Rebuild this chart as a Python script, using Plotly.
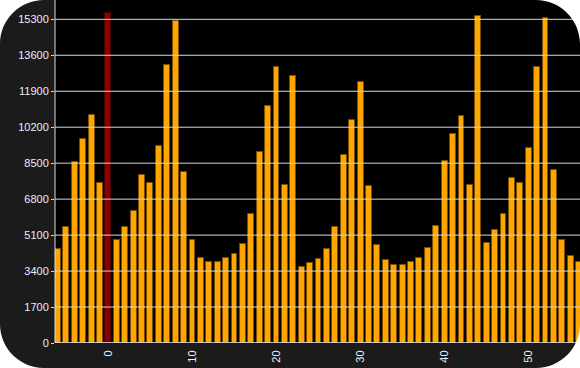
import plotly.graph_objects as go

# Data
categories = list(range(-6, 57))
values = [4420, 5460, 8540, 9620, 10760, 7540, 15610, 4860, 5460, 6260,
          7920, 7540, 9290, 13120, 15230, 8090, 4860, 4040, 3850, 3850,
          4040, 4230, 4700, 6120, 9010, 11180, 13030, 7490, 12600, 3570,
          3800, 3990, 4420, 5460, 8870, 10520, 12320, 7400, 4650, 3900,
          3710, 3710, 3850, 4040, 4470, 5510, 8580, 9860, 10710, 7490,
          15440, 4750, 5320, 6120, 7780, 7540, 9240, 13030, 15350, 8160,
          4890, 4090, 3850]
highlight = 0
ytick_vals = [0, 1700, 3400, 5100, 6800, 8500, 10200, 11900, 13600, 15300]
xtick_vals = [0, 10, 20, 30, 40, 50]

W, H = 580, 368
ML, MR, MT, MB = 55, 0, 0, 25
PW, PH = W - ML - MR, H - MT - MB

colors = ["#8B0000" if c == highlight else "#FFA500" for c in categories]
lines = ["#4a0000" if c == highlight else "#7a5000" for c in categories]

fig = go.Figure(go.Bar(
    x=categories, y=values, width=0.7,
    marker=dict(color=colors, line=dict(color=lines, width=1)),
))

def fx(px):
    return (px - ML) / PW

def fy(py):
    return (H - MB - py) / PH

def corner_path(pts):
    s = ""
    for cmd, coords in pts:
        s += cmd + " " + " ".join(f"{fx(a):.5f},{fy(b):.5f}" for a, b in coords) + " "
    return s + "Z"

r = 44
k = 0.5523
shapes = []
# gridlines above bars
for v in ytick_vals[1:]:
    shapes.append(dict(type="line", xref="paper", yref="y", x0=0, x1=1, y0=v, y1=v,
                       line=dict(color="#d8d8d8", width=1), layer="above"))
shapes.append(dict(type="line", xref="paper", yref="y", x0=0, x1=1, y0=0, y1=0,
                   line=dict(color="#f0f0f0", width=1.5), layer="above"))
shapes.append(dict(type="line", xref="paper", yref="paper", x0=0, x1=0, y0=0, y1=1,
                   line=dict(color="#e0e0e0", width=1), layer="above"))
# rounded white corners
corners = [
    [("M", [(0, 0)]), ("L", [(r, 0)]), ("C", [(r - k * r, 0), (0, r - k * r), (0, r)])],
    [("M", [(W, 0)]), ("L", [(W - r, 0)]), ("C", [(W - r + k * r, 0), (W, r - k * r), (W, r)])],
    [("M", [(0, H)]), ("L", [(r, H)]), ("C", [(r - k * r, H), (0, H - r + k * r), (0, H - r)])],
    [("M", [(W, H)]), ("L", [(W - r, H)]), ("C", [(W - r + k * r, H), (W, H - r + k * r), (W, H - r)])],
]
for c in corners:
    shapes.append(dict(type="path", xref="paper", yref="paper", path=corner_path(c),
                       fillcolor="white", line=dict(width=0), layer="above"))

font_col = "#e6f0ff"
fig.update_layout(
    width=W, height=H,
    margin=dict(l=ML, r=MR, t=MT, b=MB, pad=0),
    paper_bgcolor="#1b1b1b", plot_bgcolor="black",
    showlegend=False,
    font=dict(family="Liberation Sans, Arial, sans-serif", size=11, color=font_col),
    xaxis=dict(range=[-6.35, 56.1], tickvals=xtick_vals, tickangle=-90,
               showgrid=False, zeroline=False, ticks="outside", ticklen=2,
               tickcolor="rgba(0,0,0,0)", tickfont=dict(size=11, color=font_col)),
    yaxis=dict(range=[0, 16213], tickvals=ytick_vals, tickformat="d",
               showgrid=False, zeroline=False,
               ticks="outside", ticklen=3, tickcolor="#d8d8d8",
               tickfont=dict(size=11, color=font_col)),
    shapes=shapes,
    bargap=0,
)

fig.write_html("out.html")
